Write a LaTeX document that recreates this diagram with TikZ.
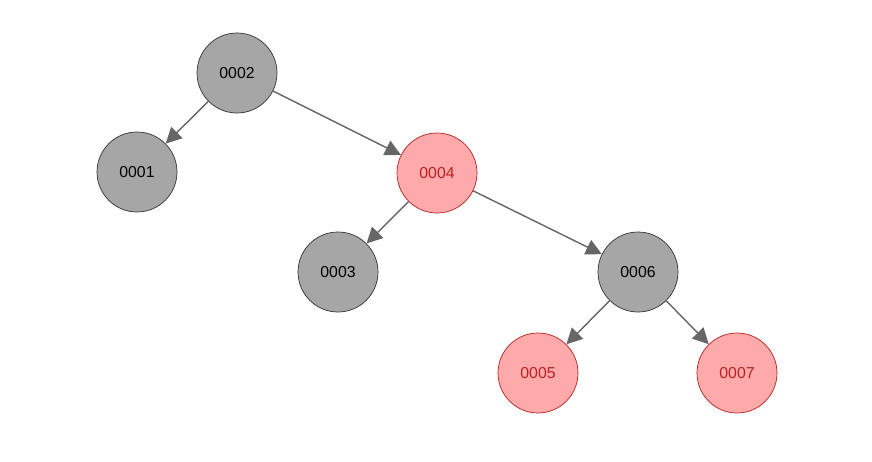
\documentclass[tikz,border=0pt]{standalone}
\usepackage{fontspec}
\setmainfont{Liberation Sans}
\usetikzlibrary{arrows.meta}

\definecolor{blacknode}{HTML}{A6A6A6}
\definecolor{rednode}{HTML}{FFAAAA}
\definecolor{redline}{HTML}{B82020}

\tikzset{%
  % Specifications for style of nodes:
         blacknd/.style = {circle, draw = black!80, minimum size=1.6cm, fill=blacknode, font=\fontsize{9}{10}\selectfont},
           rednd/.style = {circle, draw = redline, minimum size=1.6cm, fill=rednode, text=redline, font=\fontsize{9}{10}\selectfont},
          edge/.style = {-{Triangle[length=9pt,width=9pt]}, draw=black!60, thick},
}

\begin{document}
\begin{tikzpicture}
    \useasboundingbox (0,0) rectangle (17.44,-9.24);
    % Draw nodes
    \node (n2)   [blacknd]   at (4.74,-1.46)    {0002};
    \node (n1)   [blacknd]   at (2.74,-3.44)    {0001};
    \node (n4)   [rednd]     at (8.74,-3.46)    {0004};
    \node (n3)   [blacknd]   at (6.76,-5.44)    {0003};
    \node (n6)   [blacknd]   at (12.76,-5.44)   {0006};
    \node (n5)   [rednd]     at (10.76,-7.46)   {0005};
    \node (n7)   [rednd]     at (14.74,-7.46)   {0007};

    % Draw arrows
    \draw[edge]   (n2) -- (n1);
    \draw[edge]   (n2) -- (n4);
    \draw[edge]   (n4) -- (n3);
    \draw[edge]   (n4) -- (n6);
    \draw[edge]   (n6) -- (n5);
    \draw[edge]   (n6) -- (n7);
\end{tikzpicture}
\end{document}
